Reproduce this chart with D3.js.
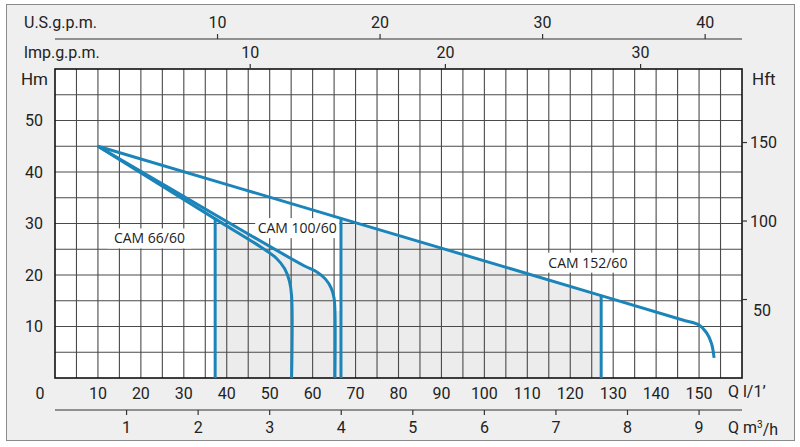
<!DOCTYPE html>
<html>
<head>
<meta charset="utf-8">
<script src="https://cdn.jsdelivr.net/npm/d3@7"></script>
<style>
  body { margin: 0; background: #fff; }
  svg text { font-family: Roboto, "DejaVu Sans", sans-serif; fill: #222; }
  .curve-label { font-family: "Open Sans", Roboto, sans-serif; }
</style>
</head>
<body>
<svg width="800" height="447"></svg>
<script>
// pump curves, Q in l/min, H in m
var cam66 = [[10, 45], [37.3, 30.9], [48, 25.4], [51.5, 23.3], [53.5, 21.2], [54.6, 18.8], [55.1, 16], [55.1, 0]];
var cam100 = [[10, 45], [37.3, 31.7], [58, 21.8], [61, 20.6], [63, 19.2], [64.3, 17.5], [65, 15.5], [65.2, 13], [65.2, 0]];
var cam152 = [[10, 45], [66.6, 31.0], [127.2, 16.0], [146, 11.3], [150, 10.3], [151.8, 8.7], [152.9, 6.7], [153.5, 3.9]];

// operating limits: [Q, H at top of the line]
var limits = [[37.3, 30.9], [66.6, 31.0], [127.2, 16.0]];

// recommended area
var shade = [[37.3, 0], [37.3, 31.7], [58, 21.8], [61, 20.6], [63, 19.2], [64.3, 17.5], [65, 15.5], [65.2, 13],
             [66.6, 13], [66.6, 31.0], [127.2, 16.0], [127.2, 0]];

var curveLabels = [
    { name: "CAM 66/60", q: 22, h: 27.1 },
    { name: "CAM 100/60", q: 56.4, h: 29.1 },
    { name: "CAM 152/60", q: 124.1, h: 22.4 }
];

var lminTicks = [10, 20, 30, 40, 50, 60, 70, 80, 90, 100, 110, 120, 130, 140, 150];
var m3hTicks = [1, 2, 3, 4, 5, 6, 7, 8, 9];
var usgpmTicks = [10, 20, 30, 40];
var impgpmTicks = [10, 20, 30];
var hmTicks = [10, 20, 30, 40, 50];
var hftTicks = [50, 100, 150];

var plotL = 55, plotR = 742, plotT = 69, plotB = 378;
var blue = "#1b84b9";

var svg = d3.select("svg");

svg.append("rect")
    .attr("x", 6.5).attr("y", 4.5)
    .attr("width", 788).attr("height", 436)
    .attr("fill", "#efefef")
    .attr("stroke", "#8a8a8a");

var x = d3.scaleLinear().domain([0, 160]).range([plotL, plotR]);
var y = d3.scaleLinear().domain([0, 60]).range([plotB, plotT]);

// other unit scales, converted from l/min and m
var xM3h = d3.scaleLinear().domain([0, 160 * 60 / 1000]).range([plotL, plotR]);
var xUs = d3.scaleLinear().domain([0, 160 / 3.78541]).range([plotL, plotR]);
var xImp = d3.scaleLinear().domain([0, 160 / 4.54609]).range([plotL, plotR]);
var yFt = d3.scaleLinear().domain([0, 60 / 0.3048]).range([plotB, plotT]);

svg.append("rect")
    .attr("x", plotL).attr("y", plotT)
    .attr("width", plotR - plotL).attr("height", plotB - plotT)
    .attr("fill", "#fff");

// shaded area
svg.append("path")
    .datum(shade)
    .attr("d", d3.line().x(function (d) { return x(d[0]); }).y(function (d) { return y(d[1]); }))
    .attr("fill", "#ececec");

// grid
var grid = svg.append("g").attr("stroke", "#4a4a4a").attr("stroke-width", 1.1);
grid.selectAll("line.v")
    .data(d3.range(5, 160, 5))
    .enter().append("line")
    .attr("x1", function (d) { return x(d); }).attr("x2", function (d) { return x(d); })
    .attr("y1", plotT).attr("y2", plotB);
grid.selectAll("line.h")
    .data(d3.range(5, 60, 5))
    .enter().append("line")
    .attr("x1", plotL).attr("x2", plotR)
    .attr("y1", function (d) { return y(d); }).attr("y2", function (d) { return y(d); });

svg.append("rect")
    .attr("x", plotL).attr("y", plotT)
    .attr("width", plotR - plotL).attr("height", plotB - plotT)
    .attr("fill", "none")
    .attr("stroke", "#111")
    .attr("stroke-width", 1.6);

// curve labels with white box
var lab = svg.selectAll("g.lab")
    .data(curveLabels)
    .enter().append("g")
    .attr("transform", function (d) { return "translate(" + x(d.q) + "," + y(d.h) + ")"; });
lab.append("rect")
    .attr("x", -42).attr("y", -10)
    .attr("width", 84).attr("height", 20)
    .attr("fill", "#fff");
lab.append("text")
    .attr("class", "curve-label")
    .attr("text-anchor", "middle")
    .attr("dy", "0.36em")
    .style("font-size", "14px")
    .text(function (d) { return d.name; });

// curves
var line = d3.line()
    .x(function (d) { return x(d[0]); })
    .y(function (d) { return y(d[1]); })
    .curve(d3.curveCatmullRom.alpha(0.5));

svg.selectAll("path.curve")
    .data([cam66, cam100, cam152])
    .enter().append("path")
    .attr("class", "curve")
    .attr("d", line)
    .attr("fill", "none")
    .attr("stroke", blue)
    .attr("stroke-width", 3);

svg.selectAll("line.limit")
    .data(limits)
    .enter().append("line")
    .attr("x1", function (d) { return x(d[0]); }).attr("x2", function (d) { return x(d[0]); })
    .attr("y1", function (d) { return y(d[1]); }).attr("y2", plotB)
    .attr("stroke", blue)
    .attr("stroke-width", 3);

// axes text
var fs = "16px";

svg.selectAll("text.lmin")
    .data(lminTicks)
    .enter().append("text")
    .attr("x", function (d) { return x(d); }).attr("y", 393)
    .attr("dy", "0.36em").attr("text-anchor", "middle")
    .style("font-size", fs)
    .text(function (d) { return d; });

svg.append("text").attr("x", 40).attr("y", 393).attr("dy", "0.36em")
    .attr("text-anchor", "middle").style("font-size", fs).text("0");
svg.append("text").attr("x", 728).attr("y", 391).attr("dy", "0.36em")
    .style("font-size", fs).text("Q  l/1’");

// m3/h axis
var gM3 = svg.append("g");
gM3.append("line").attr("x1", plotL).attr("x2", plotR).attr("y1", 410).attr("y2", 410)
    .attr("stroke", "#333").attr("stroke-width", 1.2);
gM3.selectAll("line.t").data(m3hTicks).enter().append("line")
    .attr("x1", function (d) { return xM3h(d); }).attr("x2", function (d) { return xM3h(d); })
    .attr("y1", 410).attr("y2", 415).attr("stroke", "#333").attr("stroke-width", 1.2);
gM3.selectAll("text").data(m3hTicks).enter().append("text")
    .attr("x", function (d) { return xM3h(d); }).attr("y", 427)
    .attr("dy", "0.36em").attr("text-anchor", "middle")
    .style("font-size", fs)
    .text(function (d) { return d; });
var qm = svg.append("text").attr("x", 728).attr("y", 427).attr("dy", "0.36em").style("font-size", fs);
qm.append("tspan").text("Q  m");
qm.append("tspan").attr("dy", "-0.45em").style("font-size", "10px").text("3");
qm.append("tspan").attr("dy", "0.45em").text("/h");

// U.S. g.p.m. axis
var gUs = svg.append("g");
gUs.append("line").attr("x1", plotL).attr("x2", plotR).attr("y1", 39).attr("y2", 39)
    .attr("stroke", "#333").attr("stroke-width", 1.2);
gUs.selectAll("line.t").data(usgpmTicks).enter().append("line")
    .attr("x1", function (d) { return xUs(d); }).attr("x2", function (d) { return xUs(d); })
    .attr("y1", 34).attr("y2", 39).attr("stroke", "#333").attr("stroke-width", 1.2);
gUs.selectAll("text").data(usgpmTicks).enter().append("text")
    .attr("x", function (d) { return xUs(d); }).attr("y", 22)
    .attr("dy", "0.36em").attr("text-anchor", "middle")
    .style("font-size", fs)
    .text(function (d) { return d; });
svg.append("text").attr("x", 24).attr("y", 22).attr("dy", "0.36em")
    .style("font-size", fs).text("U.S.g.p.m.");

// Imp. g.p.m. axis
var gImp = svg.append("g");
gImp.selectAll("line.t").data(impgpmTicks).enter().append("line")
    .attr("x1", function (d) { return xImp(d); }).attr("x2", function (d) { return xImp(d); })
    .attr("y1", 64).attr("y2", plotT).attr("stroke", "#333").attr("stroke-width", 1.2);
gImp.selectAll("text").data(impgpmTicks).enter().append("text")
    .attr("x", function (d) { return xImp(d); }).attr("y", 52)
    .attr("dy", "0.36em").attr("text-anchor", "middle")
    .style("font-size", fs)
    .text(function (d) { return d; });
svg.append("text").attr("x", 24).attr("y", 52).attr("dy", "0.36em")
    .style("font-size", fs).text("lmp.g.p.m.");

// Hm axis
svg.selectAll("text.hm")
    .data(hmTicks)
    .enter().append("text")
    .attr("x", 43).attr("y", function (d) { return y(d); })
    .attr("dy", "0.36em").attr("text-anchor", "end")
    .style("font-size", fs)
    .text(function (d) { return d; });
svg.append("text").attr("x", 48).attr("y", 79).attr("dy", "0.36em")
    .attr("text-anchor", "end").style("font-size", "17px").text("Hm");

// Hft axis
var gFt = svg.append("g");
gFt.selectAll("line").data(hftTicks).enter().append("line")
    .attr("x1", plotR).attr("x2", plotR + 5)
    .attr("y1", function (d) { return yFt(d); }).attr("y2", function (d) { return yFt(d); })
    .attr("stroke", "#333").attr("stroke-width", 1.2);
// the lowest label sits a little under its tick in the original
gFt.selectAll("text").data(hftTicks).enter().append("text")
    .attr("x", function (d, i) { return i === 0 ? plotR + 11 : plotR + 8; })
    .attr("y", function (d, i) { return yFt(d) + (i === 0 ? 11 : 0); })
    .attr("dy", "0.36em")
    .style("font-size", fs)
    .text(function (d) { return d; });
svg.append("text").attr("x", 752).attr("y", 79).attr("dy", "0.36em")
    .style("font-size", "17px").text("Hft");
</script>
</body>
</html>
